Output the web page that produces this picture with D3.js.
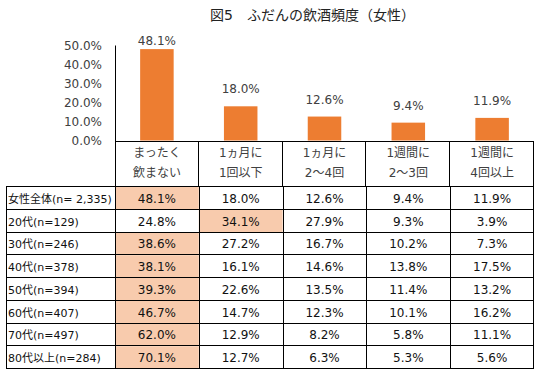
<!DOCTYPE html>
<html>
<head>
<meta charset="utf-8">
<script src="https://cdn.jsdelivr.net/npm/d3@7"></script>
<style>
  body { margin: 0; background: #fff; }
  svg { display: block; font-family: "DejaVu Sans", "Noto Sans CJK JP", sans-serif; }
</style>
</head>
<body>
<svg width="536" height="370"></svg>
<script>
/* chart data */
var title = '図5\u3000ふだんの飲酒頻度（女性）';
var categories = ['c0', 'c1', 'c2', 'c3', 'c4'];
var catLine1 = ['まったく', '1ヵ月に', '1ヵ月に', '1週間に', '1週間に'];
var catLine2 = ['飲まない', '1回以下', '2～4回', '2～3回', '4回以上'];
var overall = [48.1, 18.0, 12.6, 9.4, 11.9];
var yTicks = [0, 10, 20, 30, 40, 50];

var rowLabels = ['女性全体(n= 2,335)', '20代(n=129)', '30代(n=246)', '40代(n=378)',
                 '50代(n=394)', '60代(n=407)', '70代(n=497)', '80代以上(n=284)'];
var rowValues = [
  [48.1, 18.0, 12.6, 9.4, 11.9],
  [24.8, 34.1, 27.9, 9.3, 3.9],
  [38.6, 27.2, 16.7, 10.2, 7.3],
  [38.1, 16.1, 14.6, 13.8, 17.5],
  [39.3, 22.6, 13.5, 11.4, 13.2],
  [46.7, 14.7, 12.3, 10.1, 16.2],
  [62.0, 12.9, 8.2, 5.8, 11.1],
  [70.1, 12.7, 6.3, 5.3, 5.6]
];

var svg = d3.select('svg');
var barColor = '#ED7D31',
    hiColor = '#F8CBAD',
    textColor = '#404040';

var x = d3.scaleBand().domain(categories).range([115, 534]).paddingInner(0);
var y = d3.scaleLinear().domain([0, 50]).range([140.5, 45.5]);
var rowY = d3.scaleBand().domain(d3.range(rowLabels.length)).range([187, 369]);
var fmt = function(v) { return v.toFixed(1) + '%'; };

// title
svg.append('text')
  .attr('x', 210).attr('y', 20)
  .style('font-size', '14px')
  .style('fill', '#222')
  .text(title);

// bars
svg.append('g').selectAll('rect')
  .data(overall)
  .enter().append('rect')
  .attr('x', function(d, i) { return x(categories[i]) + x.bandwidth() * 0.3; })
  .attr('width', x.bandwidth() * 0.4)
  .attr('y', function(d) { return y(d); })
  .attr('height', function(d) { return y(0) - y(d); })
  .style('fill', barColor);

// data labels
svg.append('g').selectAll('text')
  .data(overall)
  .enter().append('text')
  .attr('x', function(d, i) { return x(categories[i]) + x.bandwidth() / 2; })
  .attr('y', function(d) { return Math.max(y(d) - 13, 45); })
  .attr('text-anchor', 'middle')
  .style('font-size', '12px')
  .style('fill', textColor)
  .text(fmt);

// y axis
var yAxis = svg.append('g')
  .attr('transform', 'translate(115,0)')
  .call(d3.axisLeft(y).tickValues(yTicks).tickSize(0).tickSizeOuter(0).tickPadding(13).tickFormat(fmt));
yAxis.select('.domain').remove();
yAxis.selectAll('text')
  .style('font-size', '12px')
  .style('font-family', '"DejaVu Sans", sans-serif')
  .style('fill', textColor);

var lines = svg.append('g').style('stroke', '#000').style('stroke-width', 1);

// axis line down through the header
lines.append('line')
  .attr('x1', 115.5).attr('x2', 115.5)
  .attr('y1', y(50)).attr('y2', 187);

// category header box
var header = svg.append('g');
categories.forEach(function(c, i) {
  var cx = x(c) + x.bandwidth() / 2;
  header.append('text')
    .attr('x', cx).attr('y', 157)
    .attr('text-anchor', 'middle')
    .style('font-size', '12px')
    .style('fill', textColor)
    .text(catLine1[i]);
  header.append('text')
    .attr('x', cx).attr('y', 177)
    .attr('text-anchor', 'middle')
    .style('font-size', '12px')
    .style('fill', textColor)
    .text(catLine2[i]);
});
lines.append('line')
  .attr('x1', 115).attr('x2', 534)
  .attr('y1', 141.5).attr('y2', 141.5);
categories.forEach(function(c) {
  var xr = Math.round(x(c) + x.bandwidth()) - 0.5;
  lines.append('line')
    .attr('x1', xr).attr('x2', xr)
    .attr('y1', 141.5).attr('y2', 187);
});

// table
var table = svg.insert('g', 'g');
rowValues.forEach(function(vals, r) {
  var top = rowY(r), h = rowY.bandwidth();
  var maxV = d3.max(vals);
  vals.forEach(function(v, i) {
    if (v === maxV) {
      table.append('rect')
        .attr('x', x(categories[i])).attr('y', top)
        .attr('width', x.bandwidth()).attr('height', h)
        .style('fill', hiColor);
    }
    svg.append('text')
      .attr('x', x(categories[i]) + x.bandwidth() / 2)
      .attr('y', top + h / 2 + 4.5)
      .attr('text-anchor', 'middle')
      .style('font-size', '12px')
      .style('fill', '#111')
      .text(fmt(v));
  });
  svg.append('text')
    .attr('x', 8).attr('y', top + h / 2 + 4.5)
    .style('font-size', '11px')
    .style('fill', '#111')
    .text(rowLabels[r]);
});

// table grid
rowY.domain().concat([rowLabels.length]).forEach(function(r) {
  var yy = Math.round(r < rowLabels.length ? rowY(r) : 369) - 0.5;
  lines.append('line')
    .attr('x1', 6).attr('x2', 534)
    .attr('y1', yy).attr('y2', yy);
});
[6, 115].concat(categories.map(function(c) { return x(c) + x.bandwidth(); }))
  .forEach(function(xv) {
    var xx = Math.round(xv) + 0.5;
    if (xv > 500) xx = Math.round(xv) - 0.5;
    lines.append('line')
      .attr('x1', xx).attr('x2', xx)
      .attr('y1', 186.5).attr('y2', 368.5);
  });
</script>
</body>
</html>
